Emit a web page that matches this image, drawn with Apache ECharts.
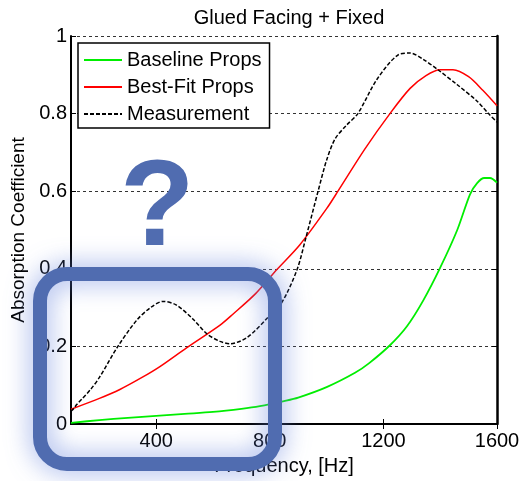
<!DOCTYPE html>
<html>
<head>
<meta charset="utf-8">
<script src="https://cdn.jsdelivr.net/npm/echarts@6/dist/echarts.min.js"></script>
<style>
  html, body { margin: 0; padding: 0; background: #fff; }
  #myChart { width: 523px; height: 481px; }
</style>
</head>
<body>
<div id="myChart"></div>
<script>
// data
const baselineFreq = [100, 200, 300, 400, 500, 600, 700, 765, 850, 900, 1000, 1100, 1150, 1223, 1283, 1340, 1400, 1460, 1505, 1530, 1555, 1575, 1600];
const baselineVals = [0.003, 0.01, 0.016, 0.021, 0.026, 0.031, 0.039, 0.046, 0.059, 0.068, 0.095, 0.132, 0.157, 0.203, 0.252, 0.318, 0.403, 0.5, 0.592, 0.621, 0.634, 0.634, 0.622];

const bestFitFreq = [100, 200, 272, 350, 413, 508, 625, 670, 750, 825, 906, 1000, 1040, 1135, 1223, 1294, 1350, 1400, 1445, 1500, 1550, 1600];
const bestFitVals = [0.038, 0.066, 0.089, 0.12, 0.148, 0.197, 0.255, 0.283, 0.336, 0.398, 0.462, 0.555, 0.6, 0.709, 0.8, 0.865, 0.898, 0.913, 0.913, 0.895, 0.86, 0.82];

const measFreq = [100, 110, 120, 138, 170, 200, 265, 332, 380, 424, 470, 530, 579, 625, 660, 720, 794, 843, 896, 927, 970, 1000, 1030, 1070, 1110, 1177, 1251, 1294, 1340, 1392, 1459, 1530, 1570, 1600];
const measVals = [0.033, 0.04, 0.05, 0.064, 0.09, 0.12, 0.2, 0.268, 0.3, 0.316, 0.307, 0.27, 0.232, 0.213, 0.207, 0.223, 0.275, 0.314, 0.398, 0.48, 0.6, 0.68, 0.735, 0.77, 0.8, 0.888, 0.951, 0.956, 0.94, 0.913, 0.875, 0.832, 0.8, 0.778];

const xTicks = [400, 800, 1200, 1600];
const seriesNames = ["Baseline Props", "Best-Fit Props", "Measurement"];

function pairs(xs, ys) {
  return xs.map((x, i) => [x, ys[i]]);
}

const font = "Liberation Sans";
const myChart = echarts.init(document.getElementById("myChart"));

myChart.setOption({
  animation: false,
  title: {
    text: "Glued Facing + Fixed",
    left: 284,
    textAlign: "center",
    top: 3,
    textStyle: { fontFamily: font, fontSize: 20, fontWeight: "normal", color: "#000" },
  },
  grid: { left: 71, right: 26, top: 36, bottom: 53 },
  legend: {
    orient: "vertical",
    left: 78,
    top: 43,
    itemWidth: 38,
    itemHeight: 12,
    itemGap: 7,
    padding: [7, 8, 4, 5],
    borderColor: "#000",
    borderWidth: 1.5,
    backgroundColor: "#fff",
    itemStyle: { opacity: 0 },
    data: seriesNames,
    textStyle: { fontFamily: font, fontSize: 20, color: "#000" },
  },
  xAxis: [
    {
      type: "value",
      min: 100,
      max: 1600,
      name: "Frequency, [Hz]",
      nameLocation: "middle",
      nameGap: 32,
      nameTextStyle: { fontFamily: font, fontSize: 20, color: "#000" },
      axisLine: { lineStyle: { color: "#000", width: 2 } },
      axisTick: { inside: true, length: 5, customValues: xTicks, lineStyle: { color: "#000" } },
      axisLabel: {
        customValues: xTicks,
        formatter: (v) => String(v),
        fontFamily: font,
        fontSize: 20,
        color: "#000",
        margin: 7,
      },
      splitLine: { show: false },
    },
    {
      type: "value",
      position: "top",
      min: 100,
      max: 1600,
      axisLine: { show: true, lineStyle: { color: "#000", width: 2 } },
      axisTick: { inside: true, length: 5, customValues: xTicks, lineStyle: { color: "#000" } },
      axisLabel: { show: false },
      splitLine: { show: false },
    },
  ],
  yAxis: [
    {
      type: "value",
      min: 0,
      max: 1,
      interval: 0.2,
      name: "Absorption Coefficient",
      nameLocation: "middle",
      nameGap: 31,
      nameTextStyle: { fontFamily: font, fontSize: 19, color: "#000" },
      axisLine: { show: true, lineStyle: { color: "#000", width: 2 } },
      axisTick: { show: true, inside: true, length: 5, lineStyle: { color: "#000" } },
      axisLabel: { fontFamily: font, fontSize: 20, color: "#000", margin: 4 },
      splitLine: { show: true, lineStyle: { color: "#333", type: [3, 3], width: 1 } },
    },
    {
      type: "value",
      position: "right",
      min: 0,
      max: 1,
      interval: 0.2,
      axisLine: { show: true, lineStyle: { color: "#000", width: 2.5 } },
      axisTick: { show: true, inside: true, length: 5, lineStyle: { color: "#000" } },
      axisLabel: { show: false },
      splitLine: { show: false },
    },
  ],
  series: [
    {
      name: seriesNames[0],
      type: "line",
      smooth: 0.3,
      symbol: "none",
      data: pairs(baselineFreq, baselineVals),
      lineStyle: { color: "#00ee00", width: 1.8 },
      itemStyle: { color: "#00ee00" },
    },
    {
      name: seriesNames[1],
      type: "line",
      smooth: 0.3,
      symbol: "none",
      data: pairs(bestFitFreq, bestFitVals),
      lineStyle: { color: "#ff0000", width: 1.5 },
      itemStyle: { color: "#ff0000" },
    },
    {
      name: seriesNames[2],
      type: "line",
      smooth: 0.3,
      symbol: "none",
      data: pairs(measFreq, measVals),
      lineStyle: { color: "#000", width: 1.5, type: [4, 2] },
      itemStyle: { color: "#000" },
    },
  ],
  graphic: [
    {
      type: "rect",
      z: 100,
      shape: { x: 40, y: 274, width: 235, height: 190, r: 27 },
      style: {
        fill: "none",
        stroke: "#506cb0",
        lineWidth: 14,
        shadowBlur: 26,
        shadowColor: "rgba(100,130,220,0.75)",
      },
    },
    {
      type: "text",
      z: 100,
      left: 120,
      top: 150,
      style: {
        text: "?",
        fontFamily: font,
        fontWeight: "bold",
        fontSize: 122,
        fill: "#506cb0",
      },
    },
  ],
});
</script>
</body>
</html>
